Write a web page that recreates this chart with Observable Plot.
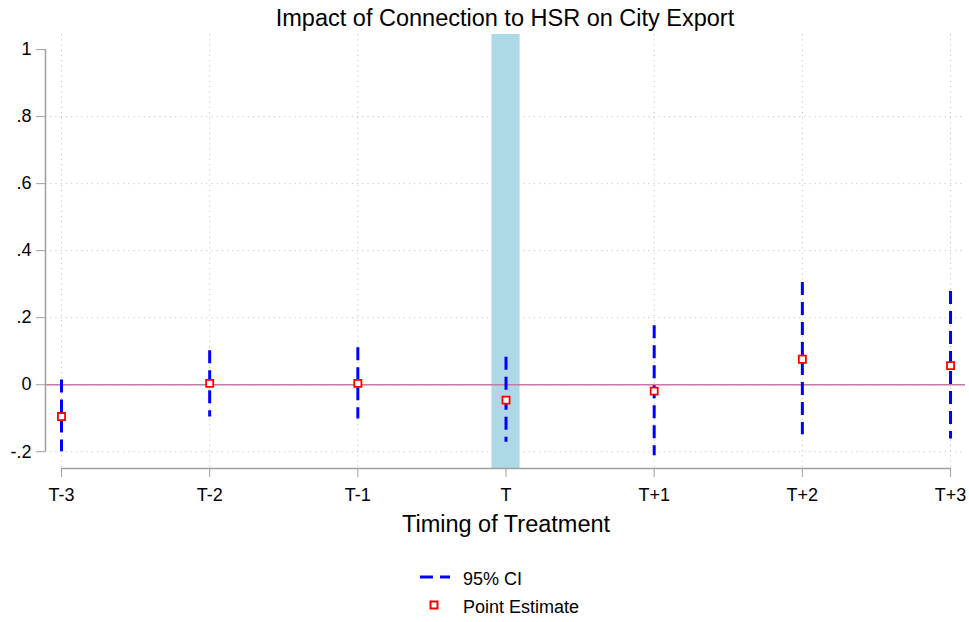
<!DOCTYPE html>
<html><head><meta charset="utf-8">
<script src="https://cdn.jsdelivr.net/npm/d3@7"></script>
<script src="https://cdn.jsdelivr.net/npm/@observablehq/plot@0.6"></script>
<style>
body{margin:0;background:#fff;font-family:"Liberation Sans",Arial,sans-serif;color:#000;}
#wrap{position:relative;width:969px;height:622px;overflow:hidden;}
#chart{position:absolute;left:0;top:0;}
.txt{position:absolute;white-space:nowrap;}
#title{left:45px;width:920px;top:5px;text-align:center;font-size:23.5px;line-height:26px;}
#xtitle{left:306px;width:400px;top:511px;text-align:center;font-size:23.5px;line-height:26px;}
.leg{font-size:18px;line-height:20px;}
</style></head><body>
<div id="wrap">
  <div id="chart"></div>
  <div id="title" class="txt">Impact of Connection to HSR on City Export</div>
  <div id="xtitle" class="txt">Timing of Treatment</div>
  <div class="txt" style="left:418px;top:564px;"><svg width="34" height="26"><line x1="2" x2="32" y1="13" y2="13" stroke="#0000ff" stroke-width="3" stroke-dasharray="13,7"/></svg></div>
  <div class="txt leg" style="left:463px;top:569px;">95% CI</div>
  <div class="txt" style="left:426px;top:597px;"><svg width="16" height="16"><rect x="4.5" y="4.5" width="7" height="7" fill="white" stroke="#ff0000" stroke-width="2"/></svg></div>
  <div class="txt leg" style="left:463px;top:597px;">Point Estimate</div>
</div>
<script>
const categories = ["T-3","T-2","T-1","T","T+1","T+2","T+3"];
const period = [-3,-2,-1,0,1,2,3];
const estimate = [-0.095, 0.004, 0.004, -0.046, -0.019, 0.076, 0.057];
const ciLow = [-0.200, -0.096, -0.102, -0.172, -0.212, -0.149, -0.162];
const ciHigh = [0.014, 0.101, 0.110, 0.082, 0.176, 0.305, 0.278];
const yTicks = [-0.2, 0, 0.2, 0.4, 0.6, 0.8, 1];
const yTickLabels = ["-.2","0",".2",".4",".6",".8","1"];
const yGrid = [-0.2, 0, 0.2, 0.4, 0.6, 0.8];
const treatmentBand = [{x1: -0.095, x2: 0.095}];
const xDomain = [-3.108, 3.101];
const yDomain = [-0.25, 1.045];

const rows = categories.map((c, i) => ({label: c, t: period[i], est: estimate[i], lo: ciLow[i], hi: ciHigh[i]}));
const axisGray = "#a0a0a0";
const gridStyle = {stroke: "#c4c4c4", strokeOpacity: 1, strokeDasharray: "1.2,4"};

const chart = Plot.plot({
  width: 969, height: 545,
  marginTop: 34, marginBottom: 77, marginLeft: 45, marginRight: 4,
  style: {fontFamily: "'Liberation Sans', Arial, sans-serif", fontSize: "18px", background: "white", color: "black"},
  x: {domain: xDomain},
  y: {domain: yDomain},
  marks: [
    Plot.gridY(yGrid, gridStyle),
    Plot.gridX(period, gridStyle),
    Plot.rect(treatmentBand, {x1: "x1", x2: "x2", fill: "#add8e6"}),
    Plot.ruleY([0], {stroke: "#c47aa4", strokeWidth: 1.5}),
    Plot.ruleX(rows, {x: "t", y1: "hi", y2: "lo", stroke: "#0000ff", strokeWidth: 3, strokeDasharray: "13,7"}),
    Plot.dot(rows, {x: "t", y: "est", symbol: "square", r: 4, stroke: "#ff0000", fill: "white", strokeWidth: 1.8}),
    Plot.axisY(yTicks, {tickFormat: d => yTickLabels[yTicks.indexOf(d)], tickSize: 9, tickPadding: 5, stroke: axisGray, fill: "black", label: null}),
    Plot.axisX(period, {tickFormat: d => categories[period.indexOf(d)], tickSize: 9, tickPadding: 11, stroke: axisGray, fill: "black", label: null}),
    Plot.ruleX([xDomain[0]], {y1: yTicks[0], y2: yTicks[yTicks.length - 1], stroke: axisGray, strokeWidth: 1.5}),
    Plot.ruleY([yDomain[0]], {x1: period[0], x2: period[period.length - 1], stroke: axisGray, strokeWidth: 1.5})
  ]
});
document.getElementById("chart").appendChild(chart);
</script>
</body></html>
